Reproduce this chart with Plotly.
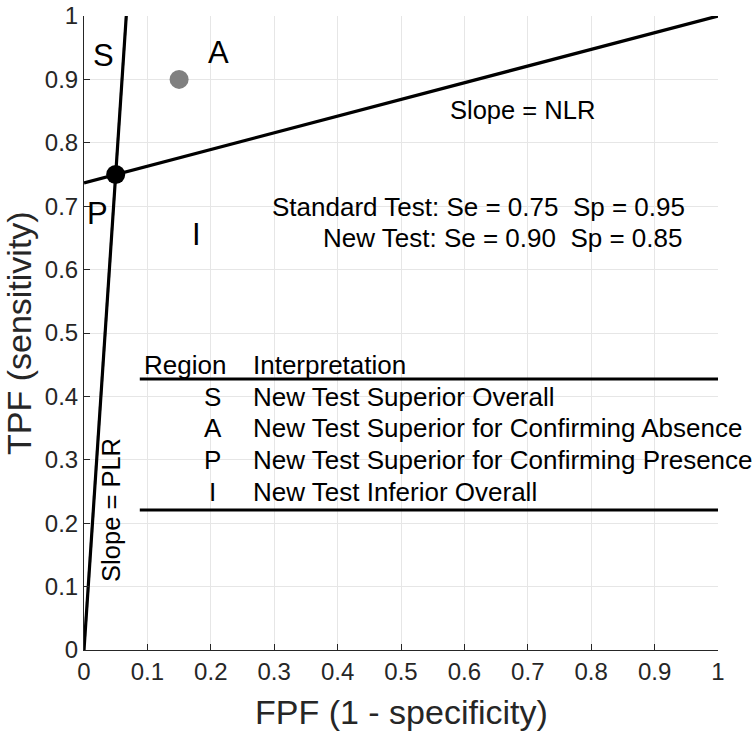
import plotly.graph_objects as go

# Data
std_se, std_sp = 0.75, 0.95
new_se, new_sp = 0.90, 0.85
std_fpf = 1 - std_sp
new_fpf = 1 - new_sp
plr = std_se / std_fpf
nlr_slope = (1 - std_se) / (1 - std_fpf)

plr_x = [0, 1 / plr]
plr_y = [0, 1]
nlr_x = [0, 1]
nlr_y = [std_se - nlr_slope * std_fpf, 1]

tick_vals = [0, 0.1, 0.2, 0.3, 0.4, 0.5, 0.6, 0.7, 0.8, 0.9, 1]
tick_text = ["0", "0.1", "0.2", "0.3", "0.4", "0.5", "0.6", "0.7", "0.8", "0.9", "1"]

region_letters = ["S", "A", "P", "I"]
region_letter_x = [0.0315, 0.212, 0.022, 0.178]
region_letter_y = [0.937, 0.942, 0.688, 0.655]

table_codes = ["S", "A", "P", "I"]
table_desc = ["New Test Superior Overall",
              "New Test Superior for Confirming Absence",
              "New Test Superior for Confirming Presence",
              "New Test Inferior Overall"]
table_rows_y = [0.399, 0.350, 0.300, 0.249]
table_header_y = 0.4495
table_lines_y = [0.4274, 0.2208]

FONT = "Liberation Sans, Arial, Helvetica, sans-serif"
TXT = "#000000"
AX = "#262626"

fig = go.Figure()
fig.add_trace(go.Scatter(x=plr_x, y=plr_y, mode="lines",
                         line=dict(color="black", width=3.2), showlegend=False))
fig.add_trace(go.Scatter(x=nlr_x, y=nlr_y, mode="lines",
                         line=dict(color="black", width=3.2), showlegend=False))
fig.add_trace(go.Scatter(x=[new_fpf], y=[new_se], mode="markers",
                         marker=dict(color="#808080", size=19), showlegend=False))
fig.add_trace(go.Scatter(x=[std_fpf], y=[std_se], mode="markers",
                         marker=dict(color="black", size=19), showlegend=False))

anns = []
for t, x, y in zip(region_letters, region_letter_x, region_letter_y):
    anns.append(dict(x=x, y=y, text=t, showarrow=False, xanchor="center", yanchor="middle",
                     font=dict(family=FONT, size=31, color=TXT)))
anns.append(dict(x=0.691, y=0.852, text="Slope = NLR", showarrow=False,
                 xanchor="center", yanchor="middle", font=dict(family=FONT, size=25.5, color=TXT)))
anns.append(dict(x=0.951, y=0.699,
                 text="Standard Test: Se = %.2f  Sp = %.2f" % (std_se, std_sp),
                 showarrow=False, xanchor="right", yanchor="middle",
                 font=dict(family=FONT, size=26, color=TXT)))
anns.append(dict(x=0.946, y=0.650,
                 text="New Test: Se = %.2f  Sp = %.2f" % (new_se, new_sp),
                 showarrow=False, xanchor="right", yanchor="middle",
                 font=dict(family=FONT, size=26, color=TXT)))
anns.append(dict(x=0.0426, y=0.221, text="Slope = PLR", showarrow=False, textangle=-90,
                 xanchor="center", yanchor="middle", font=dict(family=FONT, size=25.5, color=TXT)))
anns.append(dict(x=0.0915, y=table_header_y, text="Region", showarrow=False, xanchor="left",
                 yanchor="middle", font=dict(family=FONT, size=26, color=TXT)))
anns.append(dict(x=0.263, y=table_header_y, text="Interpretation", showarrow=False, xanchor="left",
                 yanchor="middle", font=dict(family=FONT, size=26, color=TXT)))
for c, d, y in zip(table_codes, table_desc, table_rows_y):
    anns.append(dict(x=0.203, y=y, text=c, showarrow=False, xanchor="center", yanchor="middle",
                     font=dict(family=FONT, size=26, color=TXT)))
    anns.append(dict(x=0.263, y=y, text=d, showarrow=False, xanchor="left", yanchor="middle",
                     font=dict(family=FONT, size=26, color=TXT)))

# axis titles
anns.append(dict(x=0.5, y=0, xref="paper", yref="paper", yshift=-62,
                 text="FPF (1 - specificity)", showarrow=False,
                 xanchor="center", yanchor="middle",
                 font=dict(family=FONT, size=34, color=AX)))
anns.append(dict(x=0, y=0.5, xref="paper", yref="paper", xshift=-65,
                 text="TPF (sensitivity)", showarrow=False, textangle=-90,
                 xanchor="center", yanchor="middle",
                 font=dict(family=FONT, size=34, color=AX)))

shapes = [dict(type="line", x0=0.088, x1=1.0, y0=ly, y1=ly, xref="x", yref="y",
               line=dict(color="black", width=3)) for ly in table_lines_y]

axis_common = dict(
    range=[0, 1], tickvals=tick_vals, ticktext=tick_text,
    showgrid=True, gridcolor="#e6e6e6", gridwidth=1,
    zeroline=False, showline=True, linecolor=AX, linewidth=1,
    ticks="inside", ticklen=6, tickcolor=AX, mirror=False,
    tickfont=dict(family=FONT, size=24, color=AX),
    automargin=False,
)

fig.update_layout(
    width=754, height=736,
    margin=dict(l=84, r=36, t=16, b=86),
    paper_bgcolor="white", plot_bgcolor="white",
    xaxis=dict(**axis_common),
    yaxis=dict(**axis_common),
    annotations=anns, shapes=shapes,
)

fig.write_html("out.html", config={"displayModeBar": False})

# remove the default page margin so the figure fills the window exactly
with open("out.html", "r", encoding="utf-8") as f:
    html = f.read()
html = html.replace("<head>", "<head><style>html,body{margin:0;padding:0;overflow:hidden;}</style>", 1)
with open("out.html", "w", encoding="utf-8") as f:
    f.write(html)
